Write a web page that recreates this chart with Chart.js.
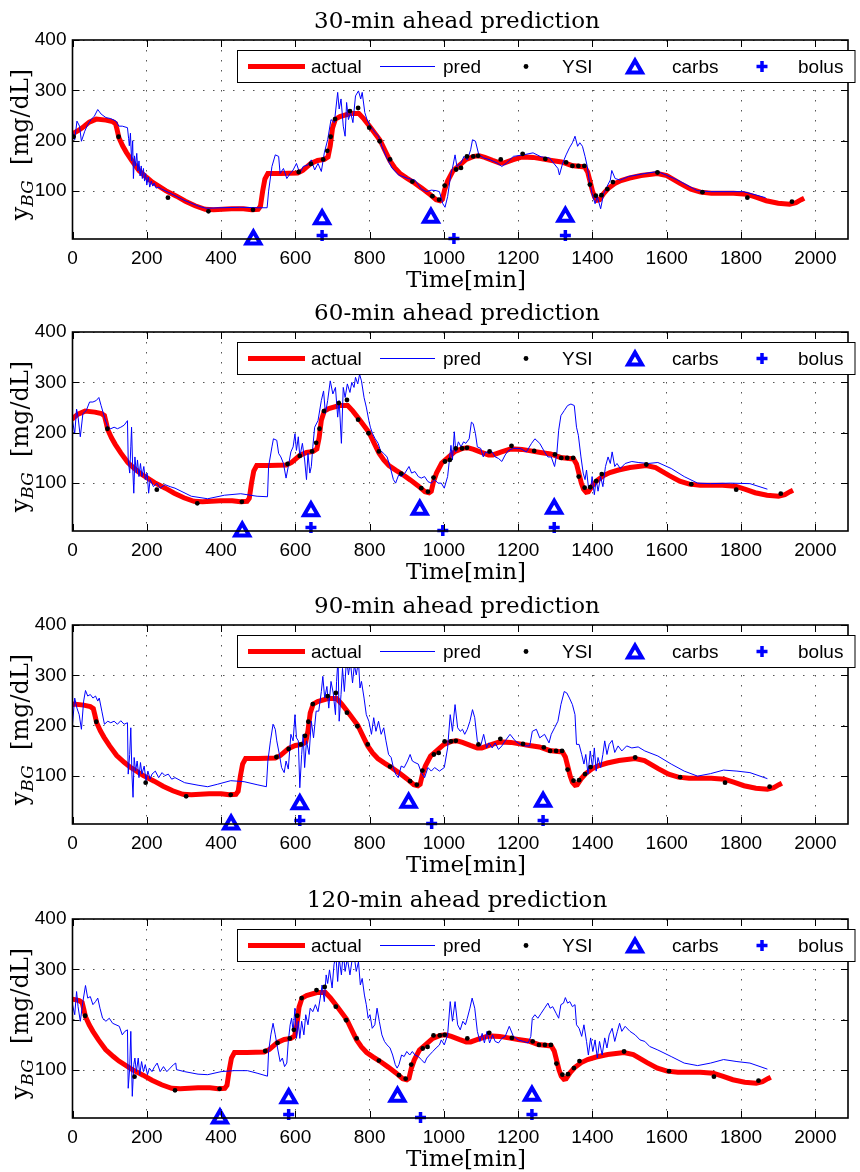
<!DOCTYPE html>
<html>
<head>
<meta charset="utf-8">
<script src="https://cdn.jsdelivr.net/npm/chart.js@4.4.0/dist/chart.umd.min.js"></script>
<style>
  html, body { margin: 0; padding: 0; background: #fff; }
  .panel { position: absolute; left: 0; width: 860px; height: 293px; }
</style>
</head>
<body>
<div class="panel" style="top:0px"><canvas id="p0" width="860" height="293"></canvas></div>
<div class="panel" style="top:292px"><canvas id="p1" width="860" height="293"></canvas></div>
<div class="panel" style="top:585px"><canvas id="p2" width="860" height="293"></canvas></div>
<div class="panel" style="top:879px"><canvas id="p3" width="860" height="293"></canvas></div>
<script>
// prediction horizons (min); measured series are shifted left by (horizon - 30)
const horizons = [30, 60, 90, 120];
const shifts = [0, 30, 60, 90];

const xTicks = [0, 200, 400, 600, 800, 1000, 1200, 1400, 1600, 1800, 2000];
const yTicks = [100, 200, 300, 400];

// actual glucose (CGM-smoothed), time in min
const actualT = [0, 15, 30, 45, 64, 90, 108, 116, 120, 125, 135, 145, 160, 179, 200, 215, 251, 280, 304, 330,
  357, 380, 428, 460, 482, 500, 506, 512, 518, 526, 560, 606, 620, 642, 660, 678, 688, 694, 700, 708,
  720, 748, 771, 785, 802, 828, 845, 855, 868, 882, 900, 917, 940, 960, 979, 990, 996, 1002, 1010, 1024,
  1040, 1060, 1080, 1095, 1110, 1131, 1150, 1162, 1185, 1211, 1240, 1264, 1290, 1317, 1344, 1379, 1387, 1393, 1400, 1406,
  1413, 1419, 1430, 1442, 1460, 1477, 1500, 1531, 1575, 1600, 1637, 1665, 1691, 1720, 1780, 1815, 1840, 1868, 1900, 1931,
  1948, 1962, 1970];
const actualV = [214, 220, 228, 237, 243, 241, 238, 234, 222, 206, 190, 177, 160, 141, 127, 118, 101, 90, 80, 71,
  64, 63, 65, 65, 63, 64, 70, 100, 124, 135, 135, 136, 141, 155, 161, 163, 168, 190, 225, 243,
  248, 254, 254, 243, 227, 201, 175, 160, 146, 135, 126, 118, 106, 95, 83, 81, 84, 103, 120, 140,
  150, 163, 169, 170, 167, 161, 156, 156, 162, 168, 167, 164, 161, 158, 151, 148, 138, 121, 100, 88,
  82, 83, 95, 105, 115, 121, 126, 131, 135, 131, 115, 104, 98, 96, 96, 94, 88, 81, 76, 74,
  77, 83, 86];

// YSI reference samples
const ysiT = [3, 124, 257, 366, 486, 609, 642, 675, 686, 695, 707, 747, 769, 799, 827, 855, 915, 969, 987, 1002,
  1033, 1046, 1062, 1079, 1092, 1153, 1212, 1273, 1329, 1346, 1362, 1378, 1393, 1409, 1424, 1440, 1455, 1575, 1696, 1817, 1937];
const ysiV = [208, 208, 87, 60, 63, 138, 154, 163, 180, 208, 243, 259, 265, 226, 199, 163, 119, 90, 83, 111,
  143, 146, 169, 169, 170, 163, 174, 164, 157, 150, 150, 150, 113, 91, 92, 104, 118, 137, 98, 87, 79];

// meals and insulin boluses
const carbsT = [487, 672, 965, 1327];
const carbsV = [4, 44, 47, 49];
const bolusT = [672, 1027, 1327];
const bolusV = [12, 6, 12];

// model predictions, [time, mg/dL] on each panel's own time axis
const pred30 = [[0,219],[6,202],[12,239],[19,229],[24,199],[33,219],[41,232],[50,242],[59,249],[68,262],[77,253],[90,246],[103,244],[117,239],[125,229],[134,229],[148,226],[151,205],[153,190],[156,215],[159,160],[162,200],[164,125],[167,170],[170,150],[173,175],[176,140],[179,160],[182,130],[185,150],[188,125],[191,145],[194,120],[197,135],[200,112],[204,128],[208,108],[212,120],[216,110],[220,116],[225,106],[232,108],[240,104],[260,97],[300,82],[340,70],[360,66],[400,67],[450,68],[500,67],[524,67],[528,100],[537,149],[546,172],[555,169],[559,135],[568,145],[577,125],[586,135],[594,142],[603,155],[612,135],[621,149],[634,152],[643,162],[652,142],[661,155],[670,139],[678,176],[687,202],[696,242],[705,236],[714,296],[718,263],[723,283],[729,229],[734,209],[738,276],[743,242],[749,256],[755,236],[762,289],[770,299],[776,283],[780,296],[787,256],[793,242],[802,229],[815,216],[824,209],[833,189],[846,166],[860,146],[878,132],[904,125],[922,122],[939,104],[953,99],[966,102],[979,101],[988,99],[997,75],[1003,68],[1010,89],[1019,135],[1023,145],[1030,172],[1035,149],[1046,156],[1054,169],[1063,162],[1072,182],[1077,202],[1085,199],[1094,172],[1107,166],[1125,162],[1143,156],[1156,149],[1169,156],[1187,169],[1214,172],[1240,176],[1262,168],[1284,166],[1307,145],[1311,132],[1320,156],[1329,172],[1338,186],[1346,196],[1353,209],[1360,189],[1366,196],[1373,189],[1380,169],[1386,149],[1391,122],[1399,95],[1407,75],[1413,89],[1422,65],[1430,95],[1439,109],[1448,122],[1452,141],[1461,125],[1475,122],[1497,129],[1541,135],[1576,139],[1629,122],[1682,101],[1718,99],[1806,99],[1842,92],[1866,87]];

const pred60 = [[0,224],[6,198],[11,247],[15,231],[21,192],[28,238],[37,244],[46,261],[55,261],[64,264],[71,270],[77,254],[86,231],[95,211],[103,208],[112,211],[121,208],[130,211],[139,215],[148,224],[150,146],[154,120],[157,172],[159,211],[162,133],[165,80],[168,152],[172,120],[175,146],[179,113],[183,139],[187,113],[192,133],[196,107],[201,120],[205,80],[209,107],[218,93],[227,100],[236,90],[249,97],[263,93],[276,90],[320,74],[364,69],[409,76],[453,79],[497,74],[525,73],[528,133],[537,172],[541,188],[550,185],[555,159],[561,152],[568,139],[575,110],[581,133],[588,162],[594,172],[599,198],[603,165],[608,192],[612,152],[619,179],[625,146],[630,107],[634,159],[639,120],[643,133],[647,172],[652,211],[661,224],[670,264],[676,283],[681,238],[687,264],[694,303],[701,277],[708,290],[714,231],[718,264],[724,179],[729,290],[734,270],[740,297],[747,280],[752,300],[758,290],[762,310],[768,297],[773,316],[778,303],[785,270],[791,251],[798,224],[802,211],[808,198],[815,188],[823,179],[829,165],[838,159],[847,152],[855,133],[864,107],[870,100],[878,116],[886,113],[895,120],[906,133],[913,120],[922,123],[931,113],[939,110],[948,113],[957,103],[966,100],[975,107],[984,100],[993,100],[1001,90],[1010,113],[1019,175],[1023,146],[1028,202],[1032,162],[1039,182],[1046,172],[1053,182],[1059,179],[1068,188],[1074,221],[1079,218],[1085,198],[1090,172],[1099,169],[1106,152],[1112,162],[1121,159],[1130,162],[1138,152],[1147,149],[1156,143],[1165,156],[1174,165],[1187,169],[1205,169],[1222,162],[1236,179],[1245,188],[1258,179],[1271,162],[1280,152],[1289,152],[1298,133],[1304,159],[1309,205],[1315,234],[1324,244],[1333,254],[1342,257],[1351,254],[1357,211],[1362,195],[1369,152],[1375,120],[1380,107],[1384,126],[1389,93],[1395,87],[1399,113],[1405,77],[1410,107],[1415,84],[1422,113],[1428,93],[1435,133],[1442,152],[1448,139],[1453,162],[1460,133],[1466,139],[1475,129],[1488,139],[1506,143],[1523,141],[1550,139],[1576,141],[1612,129],[1647,113],[1683,100],[1718,99],[1771,100],[1824,99],[1871,88]];

const pred90 = [[0,203],[6,255],[12,235],[18,222],[24,193],[30,249],[35,270],[41,259],[48,262],[55,255],[62,259],[68,249],[72,255],[79,229],[86,203],[95,209],[103,206],[112,209],[121,203],[130,210],[139,203],[148,206],[150,104],[154,143],[157,196],[160,104],[163,58],[166,137],[170,110],[174,130],[179,97],[183,127],[187,104],[193,120],[198,91],[203,110],[209,94],[214,104],[223,110],[232,97],[241,107],[249,101],[258,104],[267,94],[276,97],[302,87],[338,82],[364,79],[391,84],[426,91],[462,89],[497,83],[522,79],[526,130],[533,170],[540,203],[546,193],[550,170],[557,143],[563,117],[570,107],[575,130],[581,114],[588,183],[594,170],[599,222],[603,176],[608,170],[612,77],[617,143],[621,183],[625,117],[630,170],[637,143],[643,209],[649,176],[656,229],[663,229],[670,268],[674,298],[679,255],[685,278],[690,235],[696,288],[702,265],[708,222],[711,288],[715,334],[718,209],[723,262],[727,314],[732,268],[738,334],[743,301],[748,328],[754,285],[759,321],[764,301],[770,328],[774,275],[778,288],[785,255],[791,222],[798,209],[805,183],[811,216],[817,189],[824,209],[831,183],[838,196],[844,170],[851,143],[858,137],[864,117],[870,104],[877,97],[885,120],[893,117],[902,130],[909,143],[915,130],[922,127],[931,124],[939,107],[948,97],[957,117],[966,110],[975,117],[988,110],[1001,117],[1010,156],[1017,222],[1023,189],[1030,242],[1037,196],[1044,189],[1050,193],[1056,183],[1063,193],[1070,209],[1077,232],[1083,216],[1090,170],[1099,160],[1107,183],[1115,156],[1121,166],[1130,156],[1138,166],[1147,153],[1156,160],[1165,170],[1178,183],[1192,170],[1205,163],[1218,160],[1231,160],[1238,189],[1249,193],[1258,176],[1271,183],[1283,166],[1289,183],[1298,196],[1307,209],[1315,242],[1324,268],[1331,265],[1338,255],[1346,242],[1353,222],[1357,163],[1364,163],[1371,143],[1377,124],[1382,143],[1388,104],[1394,150],[1400,117],[1405,156],[1410,110],[1415,137],[1422,117],[1428,143],[1433,170],[1439,143],[1445,163],[1453,171],[1460,147],[1469,160],[1479,150],[1492,160],[1506,156],[1523,158],[1541,150],[1576,140],[1612,124],[1647,110],[1683,100],[1718,105],[1753,112],[1789,110],[1824,107],[1871,95]];

const pred120 = [[0,230],[6,210],[11,256],[15,226],[21,197],[28,236],[35,268],[41,243],[48,246],[55,230],[62,236],[68,243],[74,223],[81,203],[90,197],[99,203],[108,193],[117,190],[126,187],[134,170],[141,177],[148,180],[150,64],[154,104],[157,177],[161,48],[165,111],[168,124],[172,97],[177,124],[181,91],[186,117],[191,97],[196,111],[202,91],[207,104],[214,97],[221,107],[228,114],[236,97],[245,107],[254,97],[263,104],[272,111],[278,114],[280,101],[302,97],[338,92],[364,91],[400,97],[435,99],[471,99],[497,94],[525,88],[528,137],[534,170],[540,193],[546,170],[552,144],[559,117],[565,124],[571,107],[577,114],[581,157],[586,190],[590,203],[594,177],[599,223],[603,163],[608,197],[612,163],[617,197],[623,170],[628,210],[634,190],[640,223],[647,216],[654,230],[661,216],[667,243],[672,269],[678,236],[683,289],[687,272],[692,299],[699,263],[704,309],[709,329],[714,276],[718,322],[724,289],[729,335],[734,296],[740,322],[747,289],[752,315],[758,329],[764,296],[770,315],[775,269],[780,282],[786,249],[791,230],[796,203],[801,210],[807,183],[814,190],[820,223],[826,197],[833,170],[840,157],[847,150],[855,144],[862,130],[869,111],[874,104],[879,111],[886,130],[893,127],[900,137],[908,130],[915,137],[922,130],[931,127],[939,121],[948,114],[954,124],[961,130],[970,137],[979,144],[988,150],[993,160],[1001,150],[1010,170],[1017,236],[1023,197],[1030,236],[1037,190],[1044,180],[1051,197],[1058,190],[1063,203],[1070,223],[1076,243],[1083,223],[1090,177],[1097,157],[1103,173],[1109,154],[1116,177],[1123,154],[1131,170],[1138,157],[1147,154],[1156,163],[1165,167],[1176,187],[1187,167],[1200,160],[1214,157],[1227,154],[1234,167],[1238,203],[1245,210],[1253,203],[1262,213],[1271,223],[1280,233],[1286,223],[1293,226],[1302,213],[1309,203],[1315,230],[1322,233],[1327,244],[1333,233],[1339,236],[1346,226],[1353,230],[1357,190],[1364,183],[1371,167],[1377,190],[1384,157],[1389,130],[1395,164],[1401,137],[1407,160],[1413,124],[1419,157],[1426,130],[1433,164],[1439,144],[1445,170],[1453,183],[1460,157],[1467,177],[1473,193],[1479,177],[1488,187],[1501,177],[1515,170],[1528,160],[1541,157],[1554,147],[1576,140],[1612,127],[1647,114],[1683,109],[1718,114],[1753,121],[1789,117],[1824,114],[1871,102]];

const preds = [pred30, pred60, pred90, pred120];

const RED = '#ff0000', BLUE = '#0000ff';
const SANS = '"Liberation Sans", Arial, sans-serif';
const SERIF = '"DejaVu Serif", serif';

function shifted(ts, vs, s) {
  return ts.map((t, i) => ({ x: t - s, y: vs[i] }));
}

function drawTriangle(ctx, cx, cy, r) {
  ctx.beginPath();
  for (let k = 0; k < 3; k++) {
    const a = k * 2 * Math.PI / 3;
    const px = cx + Math.sin(a) * r, py = cy - Math.cos(a) * r;
    k ? ctx.lineTo(px, py) : ctx.moveTo(px, py);
  }
  ctx.closePath();
  ctx.stroke();
}

function drawPlus(ctx, cx, cy, r) {
  ctx.beginPath();
  ctx.moveTo(cx - r, cy); ctx.lineTo(cx + r, cy);
  ctx.moveTo(cx, cy - r); ctx.lineTo(cx, cy + r);
  ctx.stroke();
}

// frame, inward ticks, titles and the legend box
const decor = {
  id: 'decor',
  afterDraw(chart, args, opts) {
    const { ctx, chartArea: a, scales: { x, y } } = chart;
    ctx.save();
    ctx.setLineDash([]);
    ctx.strokeStyle = '#000';
    ctx.lineWidth = 1;
    xTicks.forEach(v => {
      const px = Math.round(x.getPixelForValue(v)) + 0.5;
      ctx.beginPath();
      ctx.moveTo(px, a.bottom); ctx.lineTo(px, a.bottom - 7);
      ctx.moveTo(px, a.top); ctx.lineTo(px, a.top + 7);
      ctx.stroke();
    });
    yTicks.forEach(v => {
      const py = Math.round(y.getPixelForValue(v)) + 0.5;
      ctx.beginPath();
      ctx.moveTo(a.left, py); ctx.lineTo(a.left + 7, py);
      ctx.moveTo(a.right, py); ctx.lineTo(a.right - 7, py);
      ctx.stroke();
    });
    ctx.lineWidth = 1.6;
    ctx.strokeRect(a.left, a.top, a.right - a.left, a.bottom - a.top);

    // title and x label
    ctx.fillStyle = '#000';
    ctx.font = '23px ' + SERIF;
    ctx.textAlign = 'center';
    ctx.textBaseline = 'alphabetic';
    ctx.fillText(opts.title, 457, a.top - 12.5);
    ctx.fillText('Time[min]', 466, a.bottom + 47.5);

    // y label with subscript
    ctx.save();
    ctx.translate(28, (a.top + a.bottom) / 2 + 5);
    ctx.rotate(-Math.PI / 2);
    const fMain = '24px ' + SERIF, fSub = 'italic 17px ' + SERIF;
    ctx.font = fMain; const w1 = ctx.measureText('y').width; const w3 = ctx.measureText('  [mg/dL]').width;
    ctx.font = fSub; const w2 = ctx.measureText('BG').width;
    let cx = -(w1 + w2 + w3) / 2;
    ctx.textAlign = 'left';
    ctx.font = fMain; ctx.fillText('y', cx, 0); cx += w1;
    ctx.font = fSub; ctx.fillText('BG', cx, 5); cx += w2;
    ctx.font = fMain; ctx.fillText('  [mg/dL]', cx, 0);
    ctx.restore();

    // legend
    const top = a.top + 10.5, bot = a.top + 42.5, mid = (top + bot) / 2;
    ctx.fillStyle = '#fff';
    ctx.fillRect(237, top, 618, bot - top);
    ctx.lineWidth = 1;
    ctx.strokeStyle = '#000';
    ctx.strokeRect(237.5, top, 617.5, bot - top);

    ctx.lineCap = 'butt';
    ctx.strokeStyle = RED; ctx.lineWidth = 5;
    ctx.beginPath(); ctx.moveTo(248, mid); ctx.lineTo(305, mid); ctx.stroke();
    ctx.strokeStyle = BLUE; ctx.lineWidth = 1;
    ctx.beginPath(); ctx.moveTo(380, mid); ctx.lineTo(435, mid); ctx.stroke();
    ctx.fillStyle = '#000';
    ctx.beginPath(); ctx.arc(526, mid, 2.4, 0, 2 * Math.PI); ctx.fill();
    ctx.strokeStyle = BLUE; ctx.lineWidth = 4;
    drawTriangle(ctx, 635, mid + 2, 8);
    ctx.lineWidth = 3.5;
    drawPlus(ctx, 762, mid, 5.5);

    ctx.fillStyle = '#000';
    ctx.font = '19px ' + SANS;
    ctx.textAlign = 'left';
    ctx.textBaseline = 'middle';
    ctx.fillText('actual', 311, mid + 1);
    ctx.fillText('pred', 443, mid + 1);
    ctx.fillText('YSI', 562, mid + 1);
    ctx.fillText('carbs', 672, mid + 1);
    ctx.fillText('bolus', 798, mid + 1);
    ctx.restore();
  }
};

horizons.forEach((h, k) => {
  const s = shifts[k];
  new Chart(document.getElementById('p' + k), {
    type: 'line',
    data: {
      datasets: [
        { label: 'actual', data: shifted(actualT, actualV, s), borderColor: RED, borderWidth: 5,
          pointRadius: 0, clip: 0, order: 5 },
        { label: 'pred', data: preds[k].map(([t, v]) => ({ x: t, y: v })), borderColor: BLUE, borderWidth: 1,
          pointRadius: 0, clip: 0, order: 4 },
        { label: 'YSI', data: shifted(ysiT, ysiV, s), showLine: false, pointRadius: 2.4,
          pointBackgroundColor: '#000', pointBorderWidth: 0, clip: 0, order: 3 },
        { label: 'carbs', data: shifted(carbsT, carbsV, s), showLine: false, pointStyle: 'triangle',
          pointRadius: 8, pointBorderWidth: 4, pointBorderColor: BLUE, pointBackgroundColor: 'rgba(0,0,0,0)',
          clip: false, order: 2 },
        { label: 'bolus', data: shifted(bolusT, bolusV, s), showLine: false, pointStyle: 'cross',
          pointRadius: 5.5, pointBorderWidth: 3.5, pointBorderColor: BLUE, clip: false, order: 1 }
      ]
    },
    options: {
      responsive: false,
      animation: false,
      devicePixelRatio: 1,
      layout: { padding: { top: 40, right: 1, left: 0, bottom: 0 } },
      scales: {
        x: {
          type: 'linear', min: 0, max: 2088,
          afterBuildTicks: sc => { sc.ticks = xTicks.map(value => ({ value })); },
          afterFit: sc => { sc.height = 54; },
          ticks: { color: '#000', font: { family: SANS, size: 19 }, padding: 8, maxRotation: 0,
            callback: v => String(v) },
          grid: { color: '#555', lineWidth: 1, drawTicks: false, borderDash: [1.5, 8.5] },
          border: { display: false, dash: [1.5, 8.5] }
        },
        y: {
          type: 'linear', min: 5, max: 400,
          afterBuildTicks: sc => { sc.ticks = yTicks.map(value => ({ value })); },
          afterFit: sc => { sc.width = 72.5; },
          ticks: { color: '#000', font: { family: SANS, size: 19 }, padding: 6,
            callback: v => String(v) },
          grid: { color: '#555', lineWidth: 1, drawTicks: false, borderDash: [1.5, 8.5] },
          border: { display: false, dash: [1.5, 8.5] }
        }
      },
      plugins: {
        legend: { display: false },
        tooltip: { enabled: false },
        decor: { title: h + '-min ahead prediction' }
      }
    },
    plugins: [decor]
  });
});
</script>
</body>
</html>
